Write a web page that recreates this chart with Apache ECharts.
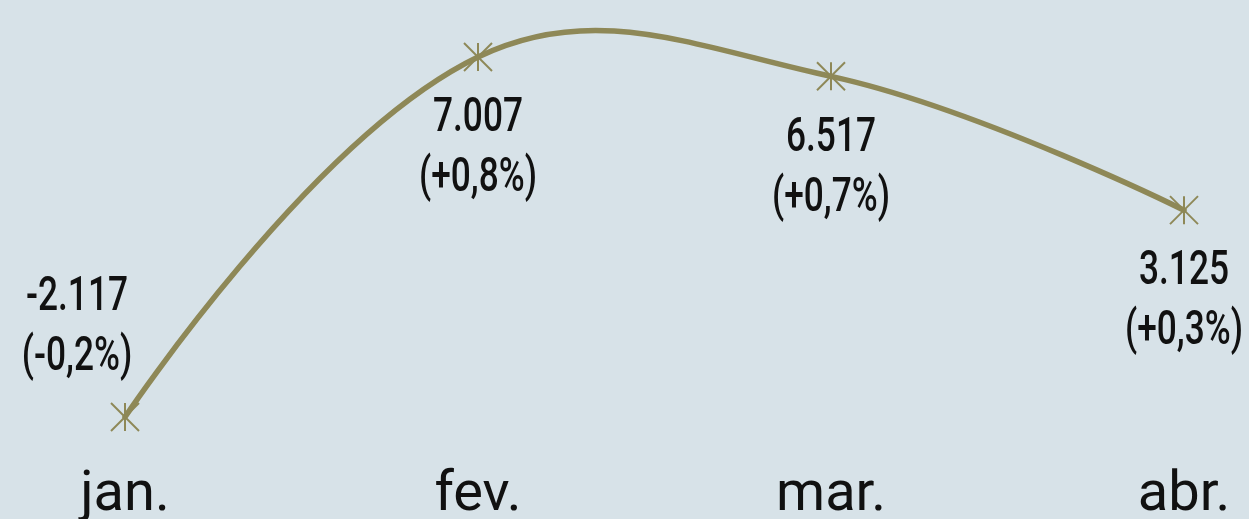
<!DOCTYPE html>
<html>
<head>
<meta charset="utf-8">
<script src="https://cdn.jsdelivr.net/npm/echarts@6/dist/echarts.min.js"></script>
<style>
  html, body { margin: 0; padding: 0; background: #d7e2e8; }
  #chart { width: 1249px; height: 519px; }
</style>
</head>
<body>
<div id="chart"></div>
<script>
var months = ['jan.', 'fev.', 'mar.', 'abr.'];
var saldo = [-2117, 7007, 6517, 3125];
var variacao = [-0.2, 0.8, 0.7, 0.3];

var lineColor = '#8e8857';
var textColor = '#111';
var smoothness = 0.4;

// 7007 -> "7.007"
function fmtNum(v) {
  var s = Math.abs(v).toString().replace(/\B(?=(\d{3})+(?!\d))/g, '.');
  return (v < 0 ? '-' : '') + s;
}
// 0.8 -> "(+0,8%)"
function fmtPct(v) {
  return '(' + (v < 0 ? '-' : '+') + Math.abs(v).toFixed(1).replace('.', ',') + '%)';
}

function dist(a, b) {
  return Math.sqrt((a[0] - b[0]) * (a[0] - b[0]) + (a[1] - b[1]) * (a[1] - b[1]));
}

// pontos de controle (cardinal) para o ponto k; side = 1 saida, -1 entrada
function ctrl(pts, k, side) {
  if (k === 0 || k === pts.length - 1) return pts[k];
  var prev = pts[k - 1], cur = pts[k], next = pts[k + 1];
  var d0 = dist(prev, cur), d1 = dist(cur, next);
  var r = smoothness * (side > 0 ? d1 : d0) / (d0 + d1);
  return [cur[0] + side * (next[0] - prev[0]) * r, cur[1] + side * (next[1] - prev[1]) * r];
}

function label(text, x, y) {
  return {
    type: 'text',
    x: x,
    y: y,
    scaleX: 0.72,
    z2: 20,
    style: {
      text: text,
      fill: textColor,
      fontFamily: 'Roboto',
      fontWeight: 500,
      fontSize: 49,
      align: 'center',
      verticalAlign: 'middle'
    }
  };
}

function renderItem(params, api) {
  var i = params.dataIndex;
  var pts = saldo.map(function (v, k) { return api.coord([k, v]); });
  var p = pts[i];
  var children = [];

  if (i < pts.length - 1) {
    var c1 = ctrl(pts, i, 1);
    var c2 = ctrl(pts, i + 1, -1);
    children.push({
      type: 'bezierCurve',
      z2: 0,
      shape: {
        x1: p[0], y1: p[1],
        cpx1: c1[0], cpy1: c1[1],
        cpx2: c2[0], cpy2: c2[1],
        x2: pts[i + 1][0], y2: pts[i + 1][1]
      },
      style: { stroke: lineColor, lineWidth: 5.5, fill: null, lineCap: 'round' }
    });
  }

  // marcador em asterisco
  var s = 14;
  var markStyle = { stroke: lineColor, lineWidth: 2 };
  children.push(
    { type: 'line', z2: 10, shape: { x1: p[0], y1: p[1] - s, x2: p[0], y2: p[1] + s }, style: markStyle },
    { type: 'line', z2: 10, shape: { x1: p[0] - s, y1: p[1] - s, x2: p[0] + s, y2: p[1] + s }, style: markStyle },
    { type: 'line', z2: 10, shape: { x1: p[0] + s, y1: p[1] - s, x2: p[0] - s, y2: p[1] + s }, style: markStyle }
  );

  var t1 = fmtNum(saldo[i]), t2 = fmtPct(variacao[i]);
  if (i === 0) {
    children.push(label(t1, p[0] - 48, p[1] - 119), label(t2, p[0] - 48, p[1] - 59));
  } else {
    children.push(label(t1, p[0], p[1] + 62), label(t2, p[0], p[1] + 122));
  }

  return { type: 'group', children: children };
}

var chart = echarts.init(document.getElementById('chart'));

var option = {
  backgroundColor: '#d7e2e8',
  animation: false,
  grid: { left: 125, right: 65, top: 17.8, bottom: 27.7, outerBoundsMode: 'none', containLabel: false },
  xAxis: {
    type: 'category',
    data: months,
    boundaryGap: false,
    axisLine: { show: false },
    axisTick: { show: false },
    axisLabel: {
      margin: -23,
      color: textColor,
      fontFamily: 'Roboto',
      fontWeight: 400,
      fontSize: 56
    }
  },
  yAxis: {
    type: 'value',
    min: -4000,
    max: 8000,
    show: false,
    splitLine: { show: false }
  },
  series: [
    {
      type: 'custom',
      renderItem: renderItem,
      encode: { x: 0, y: 1 },
      data: saldo.map(function (v, k) { return [k, v]; })
    }
  ]
};

chart.setOption(option);
</script>
</body>
</html>
